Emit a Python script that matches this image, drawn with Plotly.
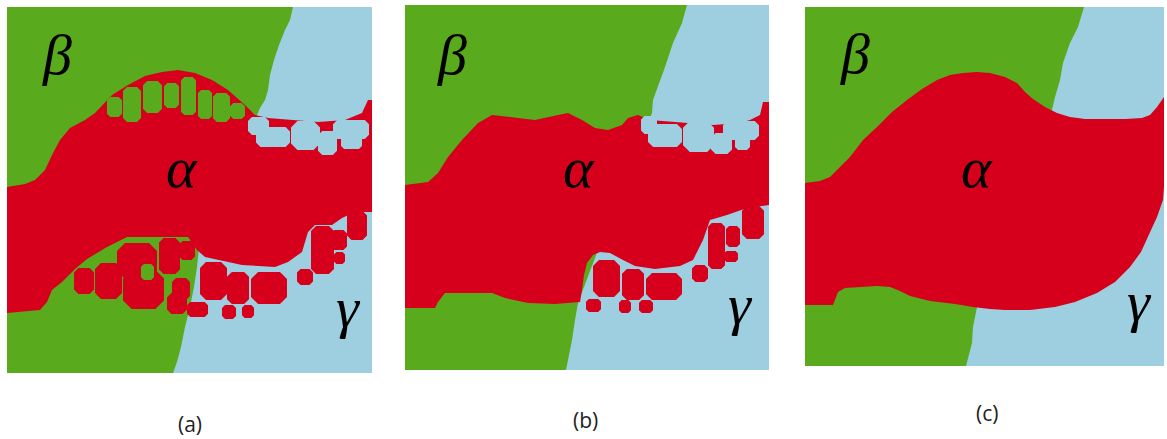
import plotly.graph_objects as go

# Phase colours: gamma (background), beta, alpha
GAMMA_COLOR = "#9ecfe0"
BETA_COLOR = "#5aaa1e"
ALPHA_COLOR = "#d6001c"

PHASE_LABELS = ["β", "α", "γ"]
PANEL_TAGS = ["(a)", "(b)", "(c)"]

# ---------- panel (a): grid coordinates, y grows downward ----------
A_BETA = [(0, 0), (286, 0), (283, 13), (278, 23), (272, 38), (267, 53), (263, 68), (261, 83),
          (258, 93), (253, 101), (225, 170), (192, 240), (190, 260), (187, 280), (183, 300),
          (178, 320), (174, 340), (170, 355), (166, 366), (0, 366)]
A_ALPHA = [(0, 180), (18, 177), (28, 173), (38, 163), (45, 148), (53, 133), (63, 121), (78, 113),
           (88, 106), (105, 88), (121, 78), (138, 69), (155, 65), (171, 63), (188, 66), (205, 73),
           (221, 83), (238, 98), (248, 108), (261, 111), (311, 115), (338, 113), (355, 106),
           (361, 93), (365, 93), (365, 205), (348, 205), (335, 211), (325, 218), (308, 218),
           (301, 225), (295, 245), (281, 255), (268, 260), (235, 258), (198, 250), (190, 243),
           (181, 230), (120, 230), (100, 240), (80, 252), (68, 262), (55, 275), (45, 283),
           (40, 295), (33, 303), (0, 306)]
# beta grains left inside the alpha band (x0, x1, y0, y1)
A_BETA_GRAINS = [(100, 115, 90, 110), (116, 134, 80, 115), (136, 155, 74, 106), (157, 172, 76, 101),
                 (174, 189, 70, 108), (191, 205, 83, 112), (206, 223, 86, 115), (223, 238, 96, 112),
                 (134, 147, 257, 273)]
# gamma grains left inside the alpha band
A_GAMMA_GRAINS = [(241, 262, 110, 128), (249, 283, 120, 140), (284, 313, 114, 143),
                  (311, 330, 124, 148), (326, 362, 113, 132), (334, 355, 128, 142)]
# alpha particles nucleated in beta
A_ALPHA_IN_BETA = [(67, 87, 261, 287), (88, 115, 256, 292), (110, 150, 236, 272),
                   (116, 157, 263, 302), (152, 173, 231, 267), (172, 188, 234, 253),
                   (165, 183, 271, 293), (160, 180, 286, 307)]
# alpha particles nucleated in gamma
A_ALPHA_IN_GAMMA = [(193, 220, 255, 293), (220, 242, 265, 297), (244, 280, 265, 297),
                    (290, 306, 262, 278), (304, 327, 219, 267), (324, 340, 223, 243),
                    (327, 338, 245, 257), (340, 360, 204, 233), (180, 201, 295, 310),
                    (215, 229, 298, 312), (235, 247, 298, 311)]

# ---------- panel (b) ----------
B_BETA = [(0, 0), (282, 0), (277, 18), (268, 38), (260, 62), (253, 82), (248, 95), (247, 108),
          (210, 200), (176, 290), (173, 298), (170, 315), (167, 335), (163, 355), (161, 365),
          (0, 365)]
B_ALPHA = [(0, 180), (23, 177), (33, 168), (43, 152), (57, 135), (73, 118), (87, 110), (107, 112),
           (130, 115), (153, 110), (163, 108), (177, 115), (190, 123), (203, 125), (217, 120),
           (223, 113), (233, 110), (245, 115), (268, 117), (308, 120), (335, 118), (345, 115),
           (355, 110), (358, 97), (364, 97), (364, 200), (342, 203), (322, 210), (305, 215),
           (298, 235), (288, 255), (275, 261), (250, 264), (230, 261), (218, 255), (205, 248),
           (195, 247), (188, 250), (182, 258), (179, 270), (177, 285), (175, 297), (150, 299),
           (123, 298), (100, 293), (87, 288), (40, 288), (33, 297), (30, 303), (0, 303)]
B_BETA_GRAINS = []
B_GAMMA_GRAINS = [(236, 252, 111, 129), (243, 277, 119, 142), (278, 309, 116, 147),
                  (306, 327, 128, 149), (318, 354, 116, 135), (330, 345, 131, 145)]
B_ALPHA_IN_BETA = []
B_ALPHA_IN_GAMMA = [(188, 215, 255, 292), (217, 239, 264, 295), (241, 277, 268, 295),
                    (287, 303, 260, 277), (303, 320, 218, 264), (321, 335, 221, 242),
                    (319, 333, 246, 257), (337, 359, 201, 234), (181, 196, 294, 307),
                    (214, 226, 295, 308), (234, 248, 295, 308)]

# ---------- panel (c) ----------
C_BETA = [(0, 0), (279, 0), (273, 20), (265, 36), (258, 56), (255, 73), (250, 90), (247, 103),
          (210, 200), (172, 286), (172, 300), (168, 320), (167, 336), (163, 353), (161, 359),
          (0, 359)]
C_ALPHA = [(0, 176), (15, 174), (25, 170), (35, 160), (45, 150), (58, 133), (72, 120), (87, 105),
           (102, 93), (117, 82), (132, 73), (145, 68), (158, 66), (172, 65), (185, 66), (200, 70),
           (212, 76), (220, 85), (228, 92), (240, 100), (252, 106), (265, 110), (280, 112),
           (300, 112), (320, 112), (337, 111), (345, 108), (352, 100), (359, 90), (359, 180),
           (358, 193), (352, 210), (345, 226), (336, 245), (325, 260), (310, 275), (292, 286),
           (270, 295), (250, 300), (225, 303), (200, 303), (185, 302), (168, 300), (150, 297),
           (125, 294), (105, 289), (95, 284), (85, 280), (72, 279), (50, 280), (40, 281),
           (33, 285), (30, 293), (28, 298), (0, 298)]
C_BETA_GRAINS = []
C_GAMMA_GRAINS = []
C_ALPHA_IN_BETA = []
C_ALPHA_IN_GAMMA = []

# label anchor points in grid coordinates: beta, alpha, gamma
A_LABEL_POS = [(50, 48), (175, 160), (341, 300)]
B_LABEL_POS = [(47, 50), (174, 162), (335, 299)]
C_LABEL_POS = [(50, 47), (172, 160), (334, 294)]

SIM_DATA = [
    dict(beta=A_BETA, alpha=A_ALPHA, beta_grains=A_BETA_GRAINS, gamma_grains=A_GAMMA_GRAINS,
         alpha_beta=A_ALPHA_IN_BETA, alpha_gamma=A_ALPHA_IN_GAMMA, labels=A_LABEL_POS),
    dict(beta=B_BETA, alpha=B_ALPHA, beta_grains=B_BETA_GRAINS, gamma_grains=B_GAMMA_GRAINS,
         alpha_beta=B_ALPHA_IN_BETA, alpha_gamma=B_ALPHA_IN_GAMMA, labels=B_LABEL_POS),
    dict(beta=C_BETA, alpha=C_ALPHA, beta_grains=C_BETA_GRAINS, gamma_grains=C_GAMMA_GRAINS,
         alpha_beta=C_ALPHA_IN_BETA, alpha_gamma=C_ALPHA_IN_GAMMA, labels=C_LABEL_POS),
]

FIG_W, FIG_H = 1167, 439
# pixel boxes of the three maps (left, top, right, bottom)
PANEL_BOXES = [(7, 7, 372, 373), (405, 5, 769, 370), (805, 7, 1164, 366)]
TAG_POS = [(190, 424), (585, 420), (987, 413)]


def polygon_xy(points):
    xs = [p[0] for p in points] + [points[0][0]]
    ys = [p[1] for p in points] + [points[0][1]]
    return xs, ys


def grains_xy(boxes):
    """Turn grain extents into chamfered polygons, joined with gaps."""
    xs, ys = [], []
    for x0, x1, y0, y1 in boxes:
        c = 0.22 * min(x1 - x0, y1 - y0)
        pts = [(x0 + c, y0), (x1 - c, y0), (x1, y0 + c), (x1, y1 - c),
               (x1 - c, y1), (x0 + c, y1), (x0, y1 - c), (x0, y0 + c), (x0 + c, y0)]
        xs += [p[0] for p in pts] + [None]
        ys += [p[1] for p in pts] + [None]
    return xs, ys


fig = go.Figure()

for i, (data, box) in enumerate(zip(SIM_DATA, PANEL_BOXES)):
    sfx = "" if i == 0 else str(i + 1)
    xa, ya = "x" + sfx, "y" + sfx

    def add(xs, ys, color):
        if not xs:
            return
        fig.add_trace(go.Scatter(x=xs, y=ys, mode="lines", fill="toself", fillcolor=color,
                                 line=dict(width=0, color=color), hoverinfo="skip",
                                 showlegend=False, xaxis=xa, yaxis=ya))

    add(*polygon_xy(data["beta"]), BETA_COLOR)
    add(*polygon_xy(data["alpha"]), ALPHA_COLOR)
    add(*grains_xy(data["gamma_grains"]), GAMMA_COLOR)
    add(*grains_xy(data["alpha_beta"]), ALPHA_COLOR)
    add(*grains_xy(data["alpha_gamma"]), ALPHA_COLOR)
    add(*grains_xy(data["beta_grains"]), BETA_COLOR)

    left, top, right, bottom = box
    w, h = right - left, bottom - top
    fig.update_layout(**{
        ("xaxis" + sfx): dict(domain=[left / FIG_W, right / FIG_W], range=[0, w],
                              visible=False, fixedrange=True),
        ("yaxis" + sfx): dict(domain=[1 - bottom / FIG_H, 1 - top / FIG_H], range=[h, 0],
                              visible=False, fixedrange=True),
    })

    for label, (lx, ly) in zip(PHASE_LABELS, data["labels"]):
        fig.add_annotation(x=lx, y=ly, xref=xa, yref=ya, text="<i>" + label + "</i>",
                           showarrow=False,
                           font=dict(family="Liberation Serif, Times New Roman, serif",
                                     size=58, color="black"),
                           xanchor="center", yanchor="middle")

for tag, (tx, ty) in zip(PANEL_TAGS, TAG_POS):
    fig.add_annotation(x=tx / FIG_W, y=1 - ty / FIG_H, xref="paper", yref="paper", text=tag,
                       showarrow=False, font=dict(family="Open Sans", size=21, color="#222"),
                       xanchor="center", yanchor="middle")

fig.update_layout(width=FIG_W, height=FIG_H, margin=dict(l=0, r=0, t=0, b=0),
                  paper_bgcolor="white", plot_bgcolor=GAMMA_COLOR)

fig.write_html("out.html")
